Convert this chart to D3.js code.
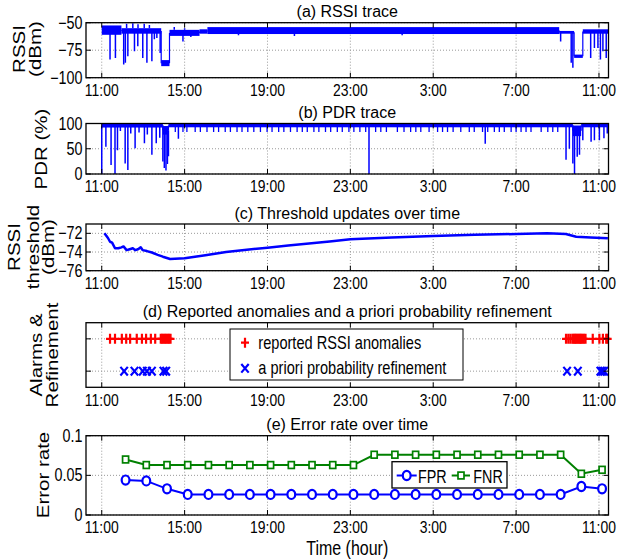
<!DOCTYPE html>
<html>
<head>
<meta charset="utf-8">
<script src="https://cdn.jsdelivr.net/npm/d3@7"></script>
<style>
  body { margin: 0; background: #fff; }
  svg { display: block; }
</style>
</head>
<body>
<svg class="anomalyFig" width="618" height="560"></svg>
<script>
// hours counted from 11:00 on the first day
const xTickHours = [0, 4, 8, 12, 16, 20, 24];
const xTickLabels = ['11:00', '15:00', '19:00', '23:00', '3:00', '7:00', '11:00'];

// (a) RSSI trace: bands [start, end, low, high], dips [hour, min], peaks [hour, max]
const rssiBands = [
  [0, 0.95, -61, -52.5], [0.95, 2.87, -60, -55], [2.87, 3.27, -89.5, -84],
  [3.27, 4.72, -62, -56.5], [4.72, 5.1, -60, -56], [5.1, 22.08, -60.3, -54],
  [22.08, 22.8, -60, -57.5], [22.8, 23.22, -82, -79], [23.22, 24.45, -60, -56]
];
const rssiDips = [
  [0.40, -83.5], [0.66, -82], [1.06, -88], [1.14, -86.5], [1.26, -80.5], [1.58, -76],
  [1.74, -71.5], [1.98, -82], [2.18, -86.5], [2.42, -85], [2.54, -65], [2.66, -64],
  [2.82, -77.5], [3.92, -67], [4.3, -63], [6.6, -61.5], [9.3, -62], [14.5, -61.5],
  [22.15, -67], [22.66, -86.5], [22.74, -91], [23.6, -82], [23.78, -73], [23.95, -73],
  [24.07, -83.5], [24.19, -76], [24.35, -82]
];
const rssiPeaks = [[1.2, -51], [1.5, -50.5], [1.75, -51.5], [2.05, -51], [2.3, -52], [3.5, -54], [4.0, -55]];

// (b) PDR trace
const pdrBands = [
  [0, 2.95, 92, 100], [2.95, 3.22, 78, 95], [3.22, 22.74, 92.5, 100],
  [22.74, 23.14, 75, 96], [23.14, 24.45, 92.5, 100]
];
const pdrDips = [
  [0.0, 0], [0.2, 54], [0.45, 18], [0.64, 0], [0.76, 47], [0.9, 85], [1.13, 21], [1.26, 8],
  [1.4, 80], [1.61, 51], [1.8, 82], [2.06, 61], [2.2, 78], [2.42, 38], [2.63, 61], [2.8, 72],
  [2.95, 25], [3.02, 12], [3.1, 7], [3.17, 20], [3.22, 35], [3.7, 70], [12.9, 0], [18.51, 60],
  [22.41, 28], [22.57, 50], [22.74, 21], [22.82, 0], [22.95, 34], [23.06, 38], [23.22, 67],
  [23.62, 64], [23.78, 67], [24.02, 67], [24.24, 71], [24.4, 80]
];
const pdrComb = [
  3.55, 3.92, 4.11, 4.51, 4.76, 5.08, 5.4, 5.64, 5.96, 6.21, 6.53, 6.77, 7.05, 7.34, 7.66,
  7.98, 8.22, 8.54, 8.79, 9.11, 9.43, 9.68, 9.92, 10.24, 10.48, 10.8, 11.05, 11.37, 11.61,
  11.93, 12.17, 12.46, 12.74, 13.22, 13.47, 13.74, 14.27, 14.59, 14.91, 15.16, 15.4, 15.8,
  16.21, 16.45, 16.69, 16.96, 17.33, 17.74, 17.98, 18.38, 18.63, 18.95, 19.19, 19.43, 19.76,
  20.0, 20.24, 20.48, 20.72, 21.21, 21.53, 21.77, 22.01
];
const pdrCombMin = 83;

// (c) threshold [hour, dBm]
const thresholdPts = [
  [0.13, -72.0], [0.3, -72.5], [0.4, -72.9], [0.5, -73.0], [0.64, -73.6], [0.8, -73.6],
  [0.95, -73.5], [1.05, -73.4], [1.2, -73.8], [1.35, -73.7], [1.5, -73.6], [1.62, -73.8],
  [1.75, -73.7], [1.88, -73.5], [1.98, -73.8], [2.18, -73.9], [2.42, -74.05], [2.7, -74.3],
  [2.95, -74.5], [3.3, -74.75], [4.0, -74.67], [5.0, -74.35], [6.0, -74.0], [7.0, -73.75],
  [8.0, -73.54], [9.0, -73.3], [10.0, -73.1], [11.0, -72.88], [12.0, -72.64], [14.0, -72.45],
  [16.0, -72.28], [18.0, -72.15], [20.0, -72.07], [21.5, -72.0], [22.4, -72.07], [22.9, -72.36],
  [23.6, -72.45], [24.43, -72.53]
];

// (d) reported anomalies and refinements
const alarmHours = [
  0.40, 0.64, 0.97, 1.18, 1.37, 1.69, 1.94, 2.14, 2.37, 2.58, 2.85, 2.92, 2.98, 3.05, 3.12,
  3.18, 3.25, 3.32, 22.41, 22.52, 22.62, 22.72, 22.78, 22.84, 22.9, 22.96, 23.02, 23.08,
  23.14, 23.2, 23.27, 23.35, 23.7, 24.02, 24.19, 24.35, 24.42
];
const refineHours = [1.08, 1.58, 1.98, 2.18, 2.42, 2.98, 3.11, 22.46, 22.98, 24.07, 24.15, 24.25];

// (e) error rate, one point per hour
const errHours = [1.15, 2.15, 3.15, 4.15, 5.15, 6.15, 7.15, 8.15, 9.15, 10.15, 11.15, 12.15,
  13.15, 14.15, 15.15, 16.15, 17.15, 18.15, 19.15, 20.15, 21.15, 22.15, 23.15, 24.15];
const fprVals = [0.044, 0.043, 0.033, 0.026, 0.026, 0.026, 0.026, 0.026, 0.026, 0.026, 0.026, 0.026,
  0.026, 0.026, 0.026, 0.026, 0.026, 0.026, 0.026, 0.026, 0.026, 0.026, 0.036, 0.033];
const fnrVals = [0.07, 0.063, 0.063, 0.063, 0.063, 0.063, 0.063, 0.063, 0.063, 0.063, 0.063, 0.063,
  0.076, 0.076, 0.076, 0.076, 0.076, 0.076, 0.076, 0.076, 0.076, 0.076, 0.052, 0.057];

const svg = d3.select('svg.anomalyFig');
const font = "'Liberation Sans', Arial, sans-serif";
const squeeze = 0.82;
const blue = '#0000ff', red = '#ff0000', green = '#008000';
const left = 86, right = 608.5, midX = (left + right) / 2;

const x = d3.scaleLinear().domain([-0.76, 24.46]).range([left, right]);

function narrowText(sel, px, py, str, size, anchor){
  return sel.append('text')
    .attr('transform', `translate(${px},${py}) scale(${squeeze},1)`)
    .attr('text-anchor', anchor || 'start')
    .style('font-family', font)
    .style('font-size', size + 'px')
    .style('fill', '#000')
    .text(str);
}

function yLabel(lines, baselines, cy){
  lines.forEach((str, i) => {
    svg.append('text')
      .attr('transform', `translate(${baselines[i]},${cy}) rotate(-90) scale(1,${squeeze})`)
      .attr('text-anchor', 'middle')
      .style('font-family', font)
      .style('font-size', '20.5px')
      .text(str);
  });
}

function makePanel(p){
  const y = d3.scaleLinear().domain(p.domain).range([p.bottom, p.top]);
  const g = svg.append('g').attr('class', 'panel ' + p.id);
  const gridG = g.append('g');
  const dataG = g.append('g');
  const axisG = g.append('g');

  if (p.clip){
    svg.append('defs').append('clipPath').attr('id', 'clip-' + p.id)
      .append('rect')
      .attr('x', left).attr('y', p.top)
      .attr('width', right - left).attr('height', p.bottom - p.top);
    dataG.attr('clip-path', `url(#clip-${p.id})`);
  }

  gridG.selectAll('line.xg')
    .data(xTickHours)
    .join('line')
    .attr('x1', d => x(d)).attr('x2', d => x(d))
    .attr('y1', p.top).attr('y2', p.bottom);
  gridG.selectAll('line.yg')
    .data(p.ticks)
    .join('line')
    .attr('x1', left).attr('x2', right)
    .attr('y1', d => y(d)).attr('y2', d => y(d));
  gridG.selectAll('line')
    .style('stroke', '#999')
    .style('stroke-width', 1)
    .style('stroke-dasharray', '1,2');

  // frame and inward ticks on all sides
  axisG.append('rect')
    .attr('x', left).attr('y', p.top)
    .attr('width', right - left).attr('height', p.bottom - p.top)
    .style('fill', 'none').style('stroke', '#000').style('stroke-width', 1.3);
  const tl = 5;
  xTickHours.forEach(h => {
    axisG.append('line').attr('x1', x(h)).attr('x2', x(h)).attr('y1', p.bottom).attr('y2', p.bottom - tl);
    axisG.append('line').attr('x1', x(h)).attr('x2', x(h)).attr('y1', p.top).attr('y2', p.top + tl);
  });
  p.ticks.forEach(t => {
    axisG.append('line').attr('x1', left).attr('x2', left + tl).attr('y1', y(t)).attr('y2', y(t));
    axisG.append('line').attr('x1', right).attr('x2', right - tl).attr('y1', y(t)).attr('y2', y(t));
  });
  axisG.selectAll('line').style('stroke', '#000').style('stroke-width', 1);

  xTickHours.forEach((h, i) => narrowText(axisG, x(h), p.bottom + 18.3, xTickLabels[i], 17, 'middle'));
  if (p.tickFmt){
    p.ticks.forEach(t => narrowText(axisG, left - 3.5, y(t) + 6, p.tickFmt(t), 17.5, 'end'));
  }

  svg.append('text')
    .attr('x', midX).attr('y', p.top - 5.5)
    .attr('text-anchor', 'middle')
    .style('font-family', font)
    .style('font-size', '16px')
    .text(p.title);

  return {dataG, y};
}

const minusFmt = d => String(d).replace('-', '\u2212');

function drawTrace(dataG, y, bands, dips, peaks){
  dataG.selectAll('rect.band')
    .data(bands)
    .join('rect')
    .attr('class', 'band')
    .attr('x', d => x(d[0]))
    .attr('width', d => x(d[1]) - x(d[0]))
    .attr('y', d => y(d[3]))
    .attr('height', d => y(d[2]) - y(d[3]))
    .style('fill', blue);

  // joins between consecutive bands
  dataG.selectAll('line.join')
    .data(bands.slice(1).map((b, i) => [b[0], (bands[i][2] + bands[i][3]) / 2, (b[2] + b[3]) / 2]))
    .join('line')
    .attr('class', 'join')
    .attr('x1', d => x(d[0])).attr('x2', d => x(d[0]))
    .attr('y1', d => y(d[1])).attr('y2', d => y(d[2]))
    .style('stroke', blue).style('stroke-width', 1.2);

  const bandAt = h => bands.find(b => h >= b[0] && h <= b[1]) || bands[0];
  dataG.selectAll('line.dip')
    .data(dips)
    .join('line')
    .attr('class', 'dip')
    .attr('x1', d => x(d[0])).attr('x2', d => x(d[0]))
    .attr('y1', d => y((bandAt(d[0])[2] + bandAt(d[0])[3]) / 2))
    .attr('y2', d => y(d[1]))
    .style('stroke', blue).style('stroke-width', 1.5);

  dataG.selectAll('line.peak')
    .data(peaks)
    .join('line')
    .attr('class', 'peak')
    .attr('x1', d => x(d[0])).attr('x2', d => x(d[0]))
    .attr('y1', d => y(bandAt(d[0])[3]))
    .attr('y2', d => y(d[1]))
    .style('stroke', blue).style('stroke-width', 1.5);
}

// (a)
const pa = makePanel({id: 'a', top: 22.7, bottom: 77.7, domain: [-100, -50], ticks: [-100, -75, -50],
  tickFmt: minusFmt, title: '(a) RSSI trace', clip: true});
drawTrace(pa.dataG, pa.y, rssiBands, rssiDips, rssiPeaks);
yLabel(['RSSI', '(dBm)'], [25, 40.5], 49);

// (b)
const pb = makePanel({id: 'b', top: 123.5, bottom: 174, domain: [0, 100], ticks: [0, 50, 100],
  tickFmt: d => String(d), title: '(b) PDR trace', clip: true});
drawTrace(pb.dataG, pb.y, pdrBands, pdrDips, []);
pb.dataG.selectAll('line.comb')
  .data(pdrComb)
  .join('line')
  .attr('class', 'comb')
  .attr('x1', d => x(d)).attr('x2', d => x(d))
  .attr('y1', pb.y(96)).attr('y2', pb.y(pdrCombMin))
  .style('stroke', blue).style('stroke-width', 1.3);
yLabel(['PDR (%)'], [47], 149);

// (c)
const pc = makePanel({id: 'c', top: 224, bottom: 270.7, domain: [-76, -71], ticks: [-76, -74, -72],
  tickFmt: minusFmt, title: '(c) Threshold updates over time', clip: true});
pc.dataG.append('path')
  .datum(thresholdPts)
  .attr('d', d3.line().x(d => x(d[0])).y(d => pc.y(d[1])))
  .style('fill', 'none').style('stroke', blue).style('stroke-width', 2.5)
  .style('stroke-linejoin', 'round');
yLabel(['RSSI', 'threshold', '(dBm)'], [20, 39, 54], 247);

// (d)
const pd = makePanel({id: 'd', top: 322.7, bottom: 387.3, domain: [0.5, 2.5], ticks: [1, 2],
  tickFmt: null, title: '(d) Reported anomalies and a priori probability refinement', clip: false});
const plusPath = 'M-4,0H4M0,-5V5';
const crossPath = 'M-3.7,-4.3L3.7,4.3M-3.7,4.3L3.7,-4.3';
pd.dataG.selectAll('path.alarm')
  .data(alarmHours)
  .join('path')
  .attr('class', 'alarm')
  .attr('transform', d => `translate(${x(d)},${pd.y(2)})`)
  .attr('d', plusPath)
  .style('fill', 'none').style('stroke', red).style('stroke-width', 2.2);
pd.dataG.selectAll('path.refine')
  .data(refineHours)
  .join('path')
  .attr('class', 'refine')
  .attr('transform', d => `translate(${x(d)},${pd.y(1)})`)
  .attr('d', crossPath)
  .style('fill', 'none').style('stroke', blue).style('stroke-width', 2.2);
yLabel(['Alarms &', 'Refinement'], [42, 58], 355);

const legD = svg.append('g').attr('class', 'legendD');
legD.append('rect')
  .attr('x', 230).attr('y', 329).attr('width', 233).attr('height', 51)
  .style('fill', '#fff').style('stroke', '#000').style('stroke-width', 1);
legD.append('path').attr('transform', 'translate(245,342.7)').attr('d', plusPath)
  .style('stroke', red).style('stroke-width', 2.2);
legD.append('path').attr('transform', 'translate(245,368.3)').attr('d', crossPath)
  .style('stroke', blue).style('stroke-width', 2.2);
narrowText(legD, 258.3, 348.7, 'reported RSSI anomalies', 17.8);
narrowText(legD, 258.3, 374.3, 'a priori probability refinement', 17.8);

// (e)
const pe = makePanel({id: 'e', top: 435.7, bottom: 515, domain: [0, 0.1], ticks: [0, 0.05, 0.1],
  tickFmt: d => d === 0 ? '0' : String(d), title: '(e) Error rate over time', clip: false});
const fprPts = errHours.map((h, i) => [h, fprVals[i]]);
const fnrPts = errHours.map((h, i) => [h, fnrVals[i]]);
const errLine = d3.line().x(d => x(d[0])).y(d => pe.y(d[1]));

pe.dataG.append('path').datum(fnrPts).attr('d', errLine)
  .style('fill', 'none').style('stroke', green).style('stroke-width', 2);
pe.dataG.selectAll('rect.fnr')
  .data(fnrPts)
  .join('rect')
  .attr('class', 'fnr')
  .attr('x', d => x(d[0]) - 3).attr('y', d => pe.y(d[1]) - 3.4)
  .attr('width', 6).attr('height', 6.8)
  .style('fill', '#fff').style('stroke', green).style('stroke-width', 1.7);

pe.dataG.append('path').datum(fprPts).attr('d', errLine)
  .style('fill', 'none').style('stroke', blue).style('stroke-width', 2);
pe.dataG.selectAll('ellipse.fpr')
  .data(fprPts)
  .join('ellipse')
  .attr('class', 'fpr')
  .attr('cx', d => x(d[0])).attr('cy', d => pe.y(d[1]))
  .attr('rx', 3.9).attr('ry', 4.6)
  .style('fill', '#fff').style('stroke', blue).style('stroke-width', 2.2);
yLabel(['Error rate'], [49], 475);

const legE = svg.append('g').attr('class', 'legendE');
legE.append('rect')
  .attr('x', 392).attr('y', 461.7).attr('width', 115).attr('height', 26.3)
  .style('fill', '#fff').style('stroke', '#000').style('stroke-width', 1.3);
legE.append('line').attr('x1', 396.7).attr('x2', 416.7).attr('y1', 475.5).attr('y2', 475.5)
  .style('stroke', blue).style('stroke-width', 2);
legE.append('ellipse').attr('cx', 406.7).attr('cy', 475.5).attr('rx', 3.9).attr('ry', 4.6)
  .style('fill', '#fff').style('stroke', blue).style('stroke-width', 2.2);
legE.append('line').attr('x1', 451.7).attr('x2', 470).attr('y1', 475.5).attr('y2', 475.5)
  .style('stroke', green).style('stroke-width', 2);
legE.append('rect').attr('x', 461 - 3).attr('y', 475.5 - 3.4).attr('width', 6).attr('height', 6.8)
  .style('fill', '#fff').style('stroke', green).style('stroke-width', 1.7);
narrowText(legE, 418, 482.5, 'FPR', 17.5);
narrowText(legE, 473.3, 482.5, 'FNR', 17.5);

narrowText(svg, midX, 555, 'Time (hour)', 19.5, 'middle');
</script>
</body>
</html>
